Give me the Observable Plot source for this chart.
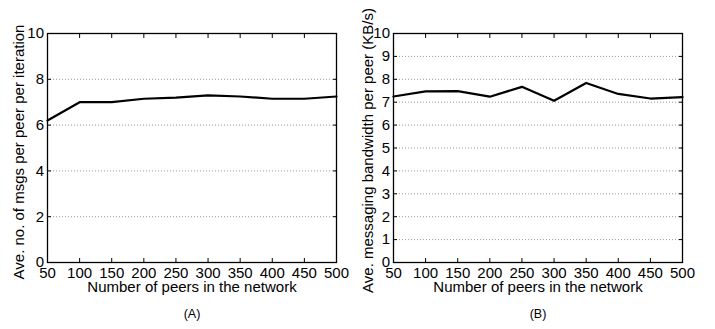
<!DOCTYPE html>
<html>
<head>
<meta charset="utf-8">
<script src="https://cdn.jsdelivr.net/npm/d3@7"></script>
<script src="https://cdn.jsdelivr.net/npm/@observablehq/plot@0.6"></script>
<style>
  html, body { margin: 0; padding: 0; background: #fff; }
  #wrap { display: flex; width: 715px; height: 329px; }
  svg { font-family: "Liberation Sans", Arial, sans-serif; }
</style>
</head>
<body>
<div id="wrap"></div>
<script>
const peers = [50, 100, 150, 200, 250, 300, 350, 400, 450, 500];
const msgsPerPeer = [6.2, 7.0, 7.0, 7.15, 7.2, 7.3, 7.25, 7.15, 7.15, 7.25];
const bandwidthPerPeer = [7.25, 7.47, 7.48, 7.24, 7.67, 7.06, 7.84, 7.36, 7.16, 7.22];
const xTicks = [50, 100, 150, 200, 250, 300, 350, 400, 450, 500];
const yTicksA = [0, 2, 4, 6, 8, 10];
const yTicksB = [0, 1, 2, 3, 4, 5, 6, 7, 8, 9, 10];
const xLabel = "Number of peers in the network";
const yLabelA = "Ave. no. of msgs per peer per iteration";
const yLabelB = "Ave. messaging bandwidth per peer (KB/s)";
const captionA = "(A)";
const captionB = "(B)";

function panel({width, marginLeft, marginRight, values, yTicks, yLabel, yLabelDx, yLabelDy, caption}) {
  const data = peers.map((p, i) => ({x: p, y: values[i]}));
  const gridTicks = yTicks.filter(t => t > 0 && t < 10);
  return Plot.plot({
    width,
    height: 329,
    marginLeft,
    marginRight,
    marginTop: 33,
    marginBottom: 67,
    style: {fontFamily: "'Liberation Sans', Arial, sans-serif", fontSize: "15px", color: "#000", background: "#fff", overflow: "visible"},
    x: {domain: [50, 500]},
    y: {domain: [0, 10]},
    marks: [
      Plot.gridY(gridTicks, {stroke: "#999", strokeOpacity: 1, strokeWidth: 1, strokeDasharray: "1,2"}),
      Plot.line(data, {x: "x", y: "y", stroke: "#000", strokeWidth: 2.2}),
      Plot.frame({stroke: "#000", strokeWidth: 1.3}),
      Plot.axisX(xTicks, {anchor: "bottom", tickSize: -4, tickPadding: 8.5, fontSize: 15, label: null}),
      Plot.axisX(xTicks, {anchor: "top", tickSize: -4, tickFormat: () => "", label: null}),
      Plot.axisY(yTicks, {anchor: "left", tickSize: -4, tickPadding: 7.5, fontSize: 15, label: null}),
      Plot.axisY(yTicks, {anchor: "right", tickSize: -4, tickFormat: () => "", label: null}),
      Plot.text([xLabel], {frameAnchor: "bottom", lineAnchor: "middle", dy: 25, text: d => d, fontSize: 15, fill: "#000"}),
      Plot.text([yLabel], {frameAnchor: "left", textAnchor: "middle", lineAnchor: "middle", dx: yLabelDx, dy: yLabelDy, rotate: -90, text: d => d, fontSize: 15, fill: "#000"}),
      Plot.text([caption], {frameAnchor: "bottom", lineAnchor: "middle", dy: 51, text: d => d, fontSize: 12.5, fill: "#000"})
    ]
  });
}

const wrap = document.getElementById("wrap");
wrap.appendChild(panel({width: 358, marginLeft: 47, marginRight: 22, values: msgsPerPeer, yTicks: yTicksA, yLabel: yLabelA, yLabelDx: -28, yLabelDy: 4, caption: captionA}));
wrap.appendChild(panel({width: 357, marginLeft: 35, marginRight: 33, values: bandwidthPerPeer, yTicks: yTicksB, yLabel: yLabelB, yLabelDx: -25, yLabelDy: 2.5, caption: captionB}));
</script>
</body>
</html>
